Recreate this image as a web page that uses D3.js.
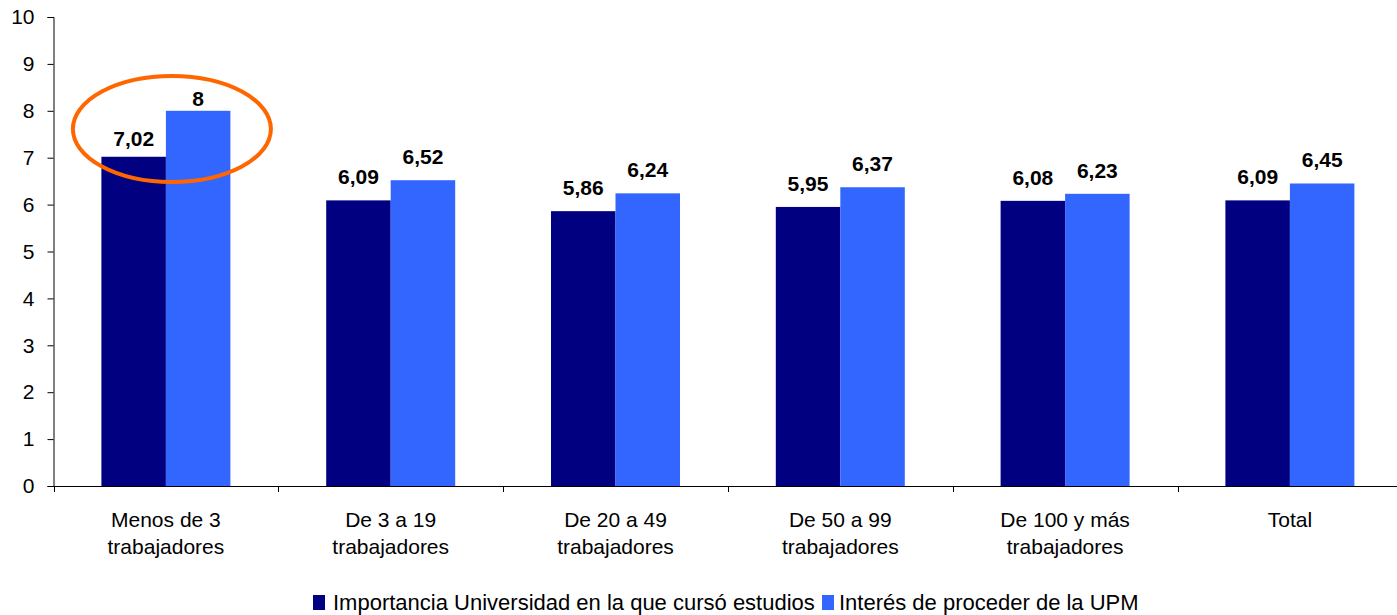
<!DOCTYPE html>
<html><head><meta charset="utf-8">
<script src="https://cdn.jsdelivr.net/npm/d3@7"></script>
<style>body{margin:0;background:#fff;overflow:hidden}svg{display:block}text{font-family:"Liberation Sans",Arial,sans-serif}</style>
</head><body><svg id="c" width="1397" height="615"></svg>
<script>
const categories = [["Menos de 3","trabajadores"],["De 3 a 19","trabajadores"],["De 20 a 49","trabajadores"],["De 50 a 99","trabajadores"],["De 100 y más","trabajadores"],["Total"]];
const seriesNames = ["Importancia Universidad en la que cursó estudios","Interés de proceder de la UPM"];
const importancia = [7.02, 6.09, 5.86, 5.95, 6.08, 6.09];
const interes = [8, 6.52, 6.24, 6.37, 6.23, 6.45];
const yTicks = [0,1,2,3,4,5,6,7,8,9,10];
const colors = ["#000080","#3366FF"];

(function(){
const svg = d3.select("#c");
const left = 53.5, topY = 17, bottom = 486, step = 224.8;
const ids = categories.map((d,i)=>i);
const x = d3.scaleBand().domain(ids).range([left, left + step*categories.length]).paddingInner(0).paddingOuter(0);
const y = d3.scaleLinear().domain([0,10]).range([bottom, topY]);
const inner = d3.scaleBand().domain([0,1]).range([0, 129]);
// label gap above bar (first group labels were nudged down in the original)
const gap = (si,i)=> i===0 ? (si===0 ? 11 : 5) : 16;

// y axis
const ya = svg.append("g").attr("transform",`translate(${left},0)`).call(d3.axisLeft(y).tickValues(yTicks).tickSize(6).tickPadding(13).tickFormat(d3.format("d")));
ya.select(".domain").attr("stroke","#000");
ya.selectAll("line").attr("stroke","#000");
ya.selectAll("text").attr("font-size",21).attr("fill","#000").attr("font-family","'Liberation Sans',Arial,sans-serif");

// x axis
const xa = svg.append("g").attr("transform",`translate(0,${bottom})`);
xa.append("line").attr("x1",left).attr("x2",1397).attr("y1",0.5).attr("y2",0.5).attr("stroke","#000");
xa.selectAll("line.t").data(ids).enter().append("line").attr("class","t")
  .attr("x1",d=>Math.round(x(d))+0.5).attr("x2",d=>Math.round(x(d))+0.5).attr("y1",0).attr("y2",6).attr("stroke","#000");
xa.selectAll("text.cat").data(categories).enter().append("text").attr("class","cat")
  .attr("text-anchor","middle").attr("font-size",21).attr("fill","#000")
  .attr("x",(d,i)=>x(i)+x.bandwidth()/2)
  .each(function(d){
    const t = d3.select(this);
    d.forEach((s,j)=>t.append("tspan").attr("x",t.attr("x")).attr("y",41+j*27).text(s));
  });

// bars
const series = [importancia, interes];
series.forEach((vals,si)=>{
  const g = svg.append("g");
  g.selectAll("rect").data(vals).enter().append("rect")
    .attr("x",(d,i)=>x(i)+x.bandwidth()/2-64.5+inner(si))
    .attr("width",inner.bandwidth())
    .attr("y",d=>y(d)).attr("height",d=>bottom-y(d))
    .attr("fill",colors[si]);
  g.selectAll("text").data(vals).enter().append("text")
    .attr("x",(d,i)=>x(i)+x.bandwidth()/2-64.5+inner(si)+inner.bandwidth()/2)
    .attr("y",(d,i)=>y(d)-gap(si,i))
    .attr("text-anchor","middle").attr("font-size",21).attr("font-weight","bold").attr("fill","#000")
    .text(d=>String(d).replace(".",","));
});

// highlight ellipse around first category
svg.append("ellipse").attr("cx",x(0)+x.bandwidth()/2+6).attr("cy",129).attr("rx",99).attr("ry",53)
  .attr("fill","none").attr("stroke","#FF6600").attr("stroke-width",4);

// legend
const lg = svg.append("g").attr("transform","translate(0,610)");
const items = [{x:313, tx:333},{x:822, tx:839}];
items.forEach((it,i)=>{
  lg.append("rect").attr("x",it.x).attr("y",-15).attr("width",12).attr("height",15).attr("fill",colors[i]);
  lg.append("text").attr("x",it.tx).attr("y",0).attr("font-size",22).attr("fill","#000").text(seriesNames[i]);
});
})();
</script></body></html>
